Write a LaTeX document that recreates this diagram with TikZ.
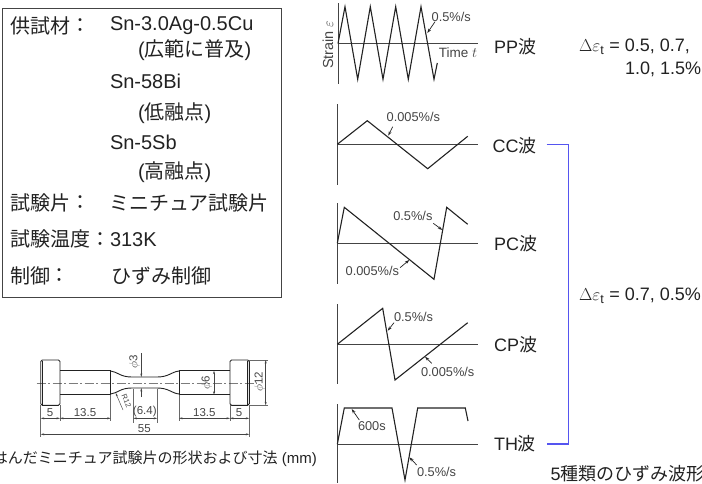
\documentclass[tikz,border=0pt]{standalone}
\usepackage{fontspec}
\setmainfont{Liberation Sans}
\newfontfamily\cjk{Noto Sans CJK JP}
\usetikzlibrary{arrows.meta}
\newcommand{\J}[1]{{\cjk #1}}
\definecolor{ink}{HTML}{222222}
\definecolor{soft}{HTML}{444444}
\definecolor{brk}{HTML}{5555F0}
\tikzset{
 big/.style={inner sep=0pt,outer sep=0pt,anchor=west,text=ink,font=\fontsize{20}{22}\selectfont},
 wlab/.style={inner sep=0pt,outer sep=0pt,anchor=west,text=ink,font=\fontsize{18}{20}\selectfont},
 delt/.style={inner sep=0pt,outer sep=0pt,anchor=west,text=ink,font=\fontsize{18}{20}\selectfont},
 rate/.style={inner sep=0pt,outer sep=0pt,text=soft,font=\fontsize{12.8}{14}\selectfont},
 dimt/.style={inner sep=0pt,outer sep=0pt,text=soft,font=\fontsize{11.5}{12}\selectfont},
 wave/.style={draw=ink,line width=1.1pt,line join=miter},
 axisl/.style={draw=soft,line width=0.9pt},
 leader/.style={draw=ink,line width=0.7pt,-{Stealth[length=4.5pt,width=3pt]}},
 dimn/.style={draw=soft,line width=0.5pt,{Stealth[length=3.5pt,width=2pt]}-{Stealth[length=3.5pt,width=2pt]}},
 ext/.style={draw=soft!80,line width=0.45pt},
 part/.style={draw=ink,line width=0.9pt},
}
\begin{document}
\begin{tikzpicture}[x=1pt,y=-1pt]
\useasboundingbox (0,0) rectangle (702,483);
\clip (0,0) rectangle (702,483);
% spec box
\node[draw=soft,line width=0.8pt,minimum width=279.2pt,minimum height=289pt,inner sep=0pt,anchor=north west] (box) at (1.5,8) {};
\node[big] (l1) at (10,25.7) {\J{供試材}};
\node[big] (c1) at (70,25.7) {\J{：}};
\node[big] (v1) at (110,25.7) {Sn-3.0Ag-0.5Cu};
\node[big] (v1b) at (138,50) {(\J{広範に普及})};
\node[big] (v2) at (110,81.7) {Sn-58Bi};
\node[big] (v2b) at (138,112.7) {(\J{低融点})};
\node[big] (v3) at (110,142.7) {Sn-5Sb};
\node[big] (v3b) at (138,172.3) {(\J{高融点})};
\node[big] (l2) at (10,202.7) {\J{試験片}};
\node[big] (c2) at (70,202.7) {\J{：}};
\node[big] (v4) at (109,202.7) {\J{ミニチュア試験片}};
\node[big] (l3) at (10,239.3) {\J{試験温度}};
\node[big] (c3) at (90,239.3) {\J{：}};
\node[big] (v5) at (110,239.3) {313K};
\node[big] (l4) at (10,276) {\J{制御}};
\node[big] (c4) at (49,276) {\J{：}};
\node[big] (v6) at (111,276) {\J{ひずみ制御}};

% specimen
\draw[draw=soft!70,line width=0.6pt,dash pattern=on 9pt off 2.5pt on 2pt off 2.5pt] (36.7,383) -- (256.7,383);
\draw[part,rounded corners=1.5pt] (40.7,360) rectangle (60,405.3);
\draw[part,rounded corners=1.5pt] (230,360) rectangle (249.3,405.3);
\draw[draw=ink,line width=1.2pt] (42.2,360.5) -- (42.2,404.8);
\draw[draw=ink,line width=1.2pt] (247.8,360.5) -- (247.8,404.8);
\draw[part] (60,370.7) -- (110.7,370.7) -- (110.7,394.7) -- (60,394.7);
\draw[part] (230,370.7) -- (179,370.7) -- (179,394.7) -- (230,394.7);
\draw[part] (110.7,371) .. controls (118,372) and (120,377) .. (132,377) -- (157,377) .. controls (169,377) and (171,372) .. (179,371);
\draw[part] (110.7,394) .. controls (118,393) and (120,388) .. (132,388) -- (157,388) .. controls (169,388) and (171,393) .. (179,394);
% extension lines
\draw[ext] (40.7,405.3) -- (40.7,437);
\draw[ext] (60,405.3) -- (60,421);
\draw[ext] (110.7,394.7) -- (110.7,421);
\draw[ext] (133.3,388.5) -- (133.3,423);
\draw[ext] (157.3,388.5) -- (157.3,423);
\draw[ext] (179,394.7) -- (179,421);
\draw[ext] (230,405.3) -- (230,421);
\draw[ext] (249.3,405.3) -- (249.3,437);
\draw[ext] (249.3,360) -- (268,360);
\draw[ext] (249.3,405.3) -- (268,405.3);
\coordinate (d1) at (40.7,418.3); \coordinate (d2) at (60,418.3); \coordinate (d3) at (110.7,418.3);
\coordinate (d4) at (133.3,418.3); \coordinate (d5) at (157.3,418.3);
\coordinate (d6) at (179,418.3); \coordinate (d7) at (230,418.3); \coordinate (d8) at (249.3,418.3);
\draw[dimn] (d1) -- (d2); \draw[dimn] (d2) -- (d3); \draw[dimn] (d4) -- (d5);
\draw[dimn] (d6) -- (d7); \draw[dimn] (d7) -- (d8);
\coordinate (t1) at (40.7,434.3); \coordinate (t2) at (249.3,434.3);
\draw[dimn] (t1) -- (t2);
\coordinate (p1) at (265.7,360); \coordinate (p2) at (265.7,405.3);
\draw[dimn] (p1) -- (p2);
\coordinate (q1) at (214,370.7); \coordinate (q2) at (214,394.7);
\draw[dimn] (q1) -- (q2);
\coordinate (r1) at (141.3,353); \coordinate (r2) at (141.3,377); \coordinate (r3) at (141.3,388); \coordinate (r4) at (141.3,397);
\draw[ext,draw=soft,-{Stealth[length=3.5pt,width=2pt]}] (r1) -- (r2);
\draw[ext,draw=soft,-{Stealth[length=3.5pt,width=2pt]}] (r4) -- (r3);
\coordinate (s1) at (123,410); \coordinate (s2) at (115.7,393);
\draw[ext,draw=soft,-{Stealth[length=3.5pt,width=2pt]}] (s1) -- (s2);
\node[dimt] (n5a) at (50,412.3) {5};
\node[dimt] (n13a) at (85,412.3) {13.5};
\node[dimt] (n64) at (144.8,411.2) {(6.4)};
\node[dimt] (n13b) at (204.3,412.3) {13.5};
\node[dimt] (n5b) at (239,412.3) {5};
\node[dimt] (n55) at (144.3,428.3) {55};
\node[dimt,rotate=90] (nd12) at (259.5,381.5) {$\phi$12};
\node[dimt,rotate=90] (nd6) at (206.7,383) {$\phi$6};
\node[dimt,rotate=90] (nd3) at (134.3,362) {$\phi$3};
\node[dimt,rotate=-68,font=\fontsize{7.5}{8}\selectfont] (nr) at (126.5,401) {R12};
\node[inner sep=0pt,anchor=east,text=ink,font=\fontsize{15}{17}\selectfont] (cap) at (317,458.3) {\J{はんだミニチュア試験片の形状および寸法} (mm)};

% PP wave
\draw[axisl] (338,3) -- (338,84);
\draw[axisl] (338,43.5) -- (478,43.5);
\draw[wave] (338,43.5) -- (345,6.7) -- (357.7,79.3) -- (370.3,6.7) -- (383,79.3) -- (395.7,6.7) -- (408.3,79.3) -- (421,6.7) -- (434,79.3) -- (437.3,63);
\node[rate,anchor=west] (ppr) at (431.7,16.7) {0.5\%/s};
\node[rate,font=\fontsize{13.5}{15}\selectfont] (ppt) at (458,53) {Time $t$};
\node[rate,rotate=90,font=\fontsize{14.5}{16}\selectfont] (ppy) at (328,44.7) {Strain $\varepsilon$};
\coordinate (ppa) at (435,21.7); \coordinate (ppb) at (427.3,33);
\draw[leader] (ppa) -- (ppb);
\node[wlab] (pp) at (494,46.5) {PP\J{波}};
% CC wave
\draw[axisl] (337.3,104) -- (337.3,185);
\draw[axisl] (337.3,144.3) -- (478,144.3);
\draw[wave] (337.3,144.3) -- (367.3,120.7) -- (427.7,168.7) -- (467.7,136.3);
\node[rate,anchor=west] (ccr) at (386.7,117) {0.005\%/s};
\coordinate (cca) at (392.7,126.7); \coordinate (ccb) at (388.3,135.7);
\draw[leader] (cca) -- (ccb);
\node[wlab] (cc) at (492.7,145.7) {CC\J{波}};
% PC wave
\draw[axisl] (337.3,203.3) -- (337.3,284);
\draw[axisl] (337.3,243.3) -- (478,243.3);
\draw[wave] (337.3,243.3) -- (344.3,207.3) -- (434,279.3) -- (446.7,207.3) -- (467.7,224.3);
\node[rate,anchor=west] (pcr1) at (393.3,216) {0.5\%/s};
\node[rate,anchor=west] (pcr2) at (345.7,271) {0.005\%/s};
\coordinate (pca) at (433.3,223.3); \coordinate (pcb) at (442.3,230);
\coordinate (pcc) at (400,267.7); \coordinate (pcd) at (409.3,260);
\draw[leader] (pca) -- (pcb); \draw[leader] (pcc) -- (pcd);
\node[wlab] (pc) at (494,244) {PC\J{波}};
% CP wave
\draw[axisl] (337.3,304) -- (337.3,384);
\draw[axisl] (337.3,344.3) -- (478,344.3);
\draw[wave] (337.3,344.3) -- (382.7,308.3) -- (395,380) -- (467.7,322.7);
\node[rate,anchor=west] (cpr1) at (394,316.7) {0.5\%/s};
\node[rate,anchor=west] (cpr2) at (421,371.7) {0.005\%/s};
\coordinate (cpa) at (394,322.7); \coordinate (cpb) at (387.7,330.7);
\coordinate (cpc) at (431.7,363.3); \coordinate (cpd) at (425,356.7);
\draw[leader] (cpa) -- (cpb); \draw[leader] (cpc) -- (cpd);
\node[wlab] (cp) at (494,345) {CP\J{波}};
% TH wave
\draw[axisl] (337.3,404) -- (337.3,483);
\draw[axisl] (337.3,444.3) -- (478,444.3);
\draw[wave] (337.3,444.3) -- (344.3,408) -- (392,408) -- (405,480) -- (417.7,408) -- (465.3,408) -- (468,421);
\node[rate,anchor=west] (thr1) at (358,425.7) {600s};
\node[rate,anchor=west] (thr2) at (417,471.7) {0.5\%/s};
\coordinate (tha) at (359.3,420); \coordinate (thb) at (351.7,409);
\coordinate (thc) at (416.7,465); \coordinate (thd) at (409.3,457.3);
\draw[leader] (tha) -- (thb); \draw[leader] (thc) -- (thd);
\node[wlab] (th) at (494,444) {TH\J{波}};
% bracket
\coordinate (bka) at (546.7,144.3);
\coordinate (bkb) at (568.3,144.3);
\coordinate (bkc) at (568.3,444);
\coordinate (bkd) at (546.7,444);
\draw[draw=brk,line width=1.2pt,line join=miter] (bka) -- (bkb) -- (bkc) -- (bkd);
% strain ranges
\node[delt] (de1) at (579,46.7) {$\Delta\varepsilon_{\mathrm{t}}$ = 0.5, 0.7,};
\node[delt] (de1b) at (625,69.3) {1.0, 1.5\%};
\node[delt] (de2) at (579,296) {$\Delta\varepsilon_{\mathrm{t}}$ = 0.7, 0.5\%};
\node[wlab] (foot) at (550.7,474) {5\J{種類のひずみ波形}};
\end{tikzpicture}
\end{document}
